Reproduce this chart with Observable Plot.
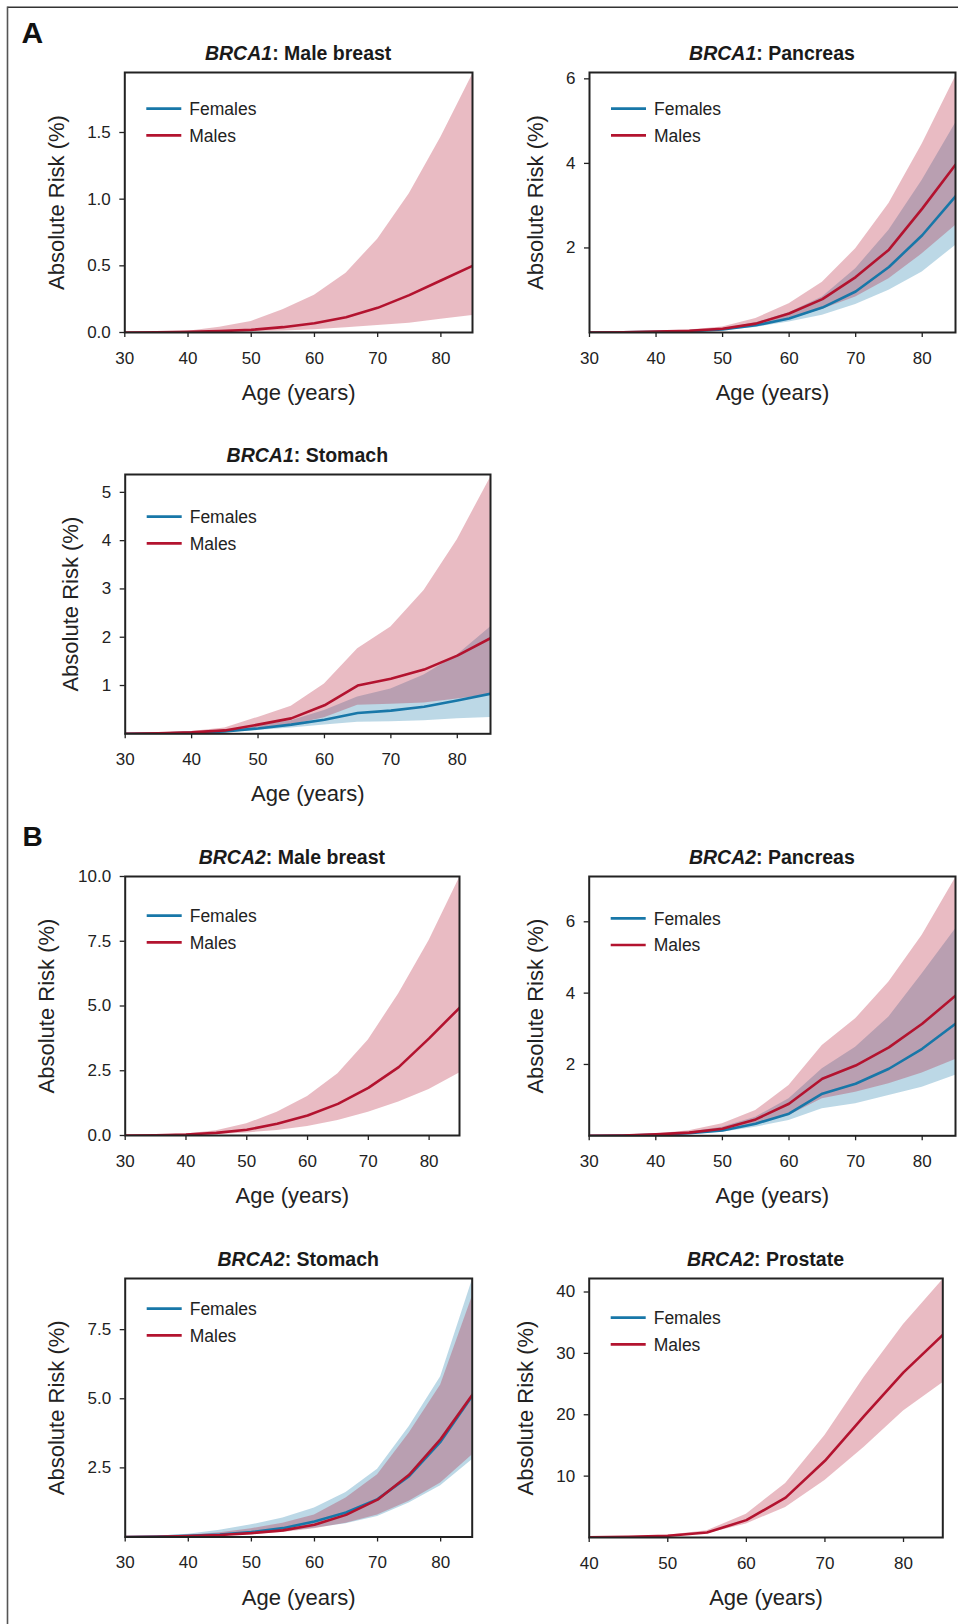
<!DOCTYPE html>
<html>
<head>
<meta charset="utf-8">
<script src="https://cdn.jsdelivr.net/npm/d3@7"></script>
<script src="https://cdn.jsdelivr.net/npm/@observablehq/plot@0.6"></script>
<style>
  body { margin: 0; background: #fff; }
  #page { position: relative; width: 958px; height: 1624px; overflow: hidden; background: #fff; }
  .panel { position: absolute; }
  #overlay { position: absolute; left: 0; top: 0; }
</style>
</head>
<body>
<div id="page"></div>
<script>
// ---------- data ----------
const ages = [30, 35, 40, 45, 50, 55, 60, 65, 70, 75, 80, 85];
const prostateAges = [40, 45, 50, 55, 60, 65, 70, 75, 80, 85];

// BRCA1: Male breast (males only)
const b1BreastMaleMid = [0, 0.001, 0.005, 0.01, 0.02, 0.04, 0.07, 0.115, 0.185, 0.28, 0.39, 0.50];
const b1BreastMaleHi  = [0, 0.002, 0.01, 0.04, 0.083, 0.17, 0.28, 0.445, 0.70, 1.04, 1.465, 1.935];
const b1BreastMaleLo  = [0, 0, 0.001, 0.003, 0.007, 0.012, 0.02, 0.035, 0.052, 0.07, 0.10, 0.127];

// BRCA1: Pancreas
const b1PancMaleMid = [0, 0.005, 0.02, 0.04, 0.09, 0.21, 0.45, 0.79, 1.31, 1.96, 2.93, 3.97];
const b1PancMaleHi  = [0, 0.01, 0.025, 0.06, 0.13, 0.33, 0.68, 1.19, 1.98, 3.05, 4.46, 6.05];
const b1PancMaleLo  = [0, 0.002, 0.01, 0.025, 0.06, 0.15, 0.31, 0.55, 0.84, 1.27, 1.86, 2.53];
const b1PancFemMid  = [0, 0.005, 0.015, 0.03, 0.07, 0.17, 0.33, 0.59, 0.97, 1.55, 2.30, 3.22];
const b1PancFemHi   = [0, 0.008, 0.02, 0.04, 0.09, 0.23, 0.47, 0.84, 1.51, 2.42, 3.60, 4.95];
const b1PancFemLo   = [0, 0.002, 0.008, 0.02, 0.05, 0.12, 0.25, 0.41, 0.66, 1.00, 1.43, 2.06];

// BRCA1: Stomach
const b1StomMaleMid = [0, 0.01, 0.03, 0.07, 0.19, 0.32, 0.59, 1.00, 1.14, 1.33, 1.62, 1.98];
const b1StomMaleHi  = [0, 0.02, 0.05, 0.12, 0.34, 0.57, 1.03, 1.76, 2.21, 2.97, 4.02, 5.31];
const b1StomMaleLo  = [0, 0.003, 0.015, 0.04, 0.10, 0.18, 0.33, 0.59, 0.61, 0.64, 0.72, 0.81];
const b1StomFemMid  = [0, 0.005, 0.02, 0.05, 0.11, 0.19, 0.29, 0.43, 0.48, 0.56, 0.69, 0.83];
const b1StomFemHi   = [0, 0.01, 0.03, 0.08, 0.17, 0.27, 0.48, 0.76, 0.93, 1.22, 1.63, 2.21];
const b1StomFemLo   = [0, 0.002, 0.008, 0.025, 0.07, 0.12, 0.18, 0.24, 0.25, 0.27, 0.31, 0.34];

// BRCA2: Male breast (males only)
const b2BreastMaleMid = [0, 0.01, 0.04, 0.10, 0.22, 0.45, 0.77, 1.22, 1.84, 2.64, 3.75, 4.93];
const b2BreastMaleHi  = [0, 0.02, 0.06, 0.18, 0.45, 0.90, 1.51, 2.38, 3.69, 5.47, 7.53, 9.95];
const b2BreastMaleLo  = [0, 0.003, 0.015, 0.04, 0.10, 0.19, 0.35, 0.58, 0.90, 1.29, 1.78, 2.41];

// BRCA2: Pancreas
const b2PancMaleMid = [0, 0.01, 0.04, 0.09, 0.20, 0.46, 0.90, 1.60, 1.97, 2.48, 3.14, 3.93];
const b2PancMaleHi  = [0, 0.02, 0.05, 0.14, 0.34, 0.71, 1.41, 2.53, 3.28, 4.31, 5.62, 7.23];
const b2PancMaleLo  = [0, 0.004, 0.025, 0.06, 0.14, 0.32, 0.57, 1.04, 1.22, 1.46, 1.76, 2.14];
const b2PancFemMid  = [0, 0.008, 0.03, 0.07, 0.15, 0.34, 0.62, 1.18, 1.46, 1.88, 2.44, 3.14];
const b2PancFemHi   = [0, 0.015, 0.04, 0.10, 0.24, 0.52, 1.04, 1.88, 2.48, 3.33, 4.54, 5.80];
const b2PancFemLo   = [0, 0.003, 0.02, 0.05, 0.10, 0.24, 0.43, 0.76, 0.90, 1.13, 1.36, 1.70];

// BRCA2: Stomach
const b2StomMaleMid = [0, 0.01, 0.03, 0.07, 0.14, 0.24, 0.44, 0.80, 1.35, 2.25, 3.54, 5.14];
const b2StomMaleHi  = [0, 0.02, 0.06, 0.15, 0.30, 0.50, 0.80, 1.41, 2.25, 3.75, 5.50, 8.69];
const b2StomMaleLo  = [0, 0.004, 0.02, 0.04, 0.09, 0.16, 0.30, 0.50, 0.80, 1.29, 1.95, 2.97];
const b2StomFemMid  = [0, 0.012, 0.04, 0.09, 0.18, 0.32, 0.56, 0.89, 1.37, 2.20, 3.45, 5.10];
const b2StomFemHi   = [0, 0.03, 0.10, 0.24, 0.44, 0.69, 1.05, 1.61, 2.45, 3.99, 5.80, 9.29];
const b2StomFemLo   = [0, 0.005, 0.02, 0.05, 0.10, 0.19, 0.32, 0.48, 0.74, 1.23, 1.85, 2.79];

// BRCA2: Prostate (males only, from age 40)
const b2ProsMaleMid = [0.03, 0.10, 0.28, 0.82, 2.83, 6.5, 12.5, 19.8, 26.9, 33.0];
const b2ProsMaleHi  = [0.05, 0.12, 0.35, 1.09, 3.8, 8.8, 16.6, 26.1, 34.7, 42.0];
const b2ProsMaleLo  = [0.01, 0.07, 0.20, 0.60, 2.2, 4.9, 9.3, 14.7, 20.6, 25.2];

const legendLabels = ["Females", "Males"];
const xLabel = "Age (years)";
const yLabel = "Absolute Risk (%)";

// ---------- styling ----------
const femaleColor = "#1877a8";
const maleColor = "#b3132f";
const ink = "#222";
const FONT = "'Liberation Sans', Arial, Helvetica, sans-serif";

function rows(x, mid, lo, hi) {
  return x.map((a, i) => ({age: a, mid: mid[i], lo: lo[i], hi: hi[i]}));
}

const ROW_TOPS = [0, 402, 804, 1206];
const COL = [{left: 0, width: 500}, {left: 479, width: 479}];
const FRAME_TOP = 72;

const panels = [
  {gene: "BRCA1", site: "Male breast", col: 0, row: 0, ml: 124.3, mr: 28, fh: 260,
   xDomain: [30, 85], xTicks: [30, 40, 50, 60, 70, 80], yDomain: [0, 1.95], yTicks: [0, 0.5, 1.0, 1.5], yFmt: ".1f",
   legendDy: 36.7, yLabelDx: 67.6,
   male: rows(ages, b1BreastMaleMid, b1BreastMaleLo, b1BreastMaleHi), female: null},
  {gene: "BRCA1", site: "Pancreas", col: 1, row: 0, ml: 110, mr: 3, fh: 260,
   xDomain: [30, 85], xTicks: [30, 40, 50, 60, 70, 80], yDomain: [0, 6.15], yTicks: [2, 4, 6], yFmt: "d",
   legendDy: 36.7, yLabelDx: 54,
   male: rows(ages, b1PancMaleMid, b1PancMaleLo, b1PancMaleHi), female: rows(ages, b1PancFemMid, b1PancFemLo, b1PancFemHi)},
  {gene: "BRCA1", site: "Stomach", col: 0, row: 1, ml: 124.7, mr: 10, fh: 259.3,
   xDomain: [30, 85], xTicks: [30, 40, 50, 60, 70, 80], yDomain: [0, 5.37], yTicks: [1, 2, 3, 4, 5], yFmt: "d",
   legendDy: 42.7, yLabelDx: 54.7,
   male: rows(ages, b1StomMaleMid, b1StomMaleLo, b1StomMaleHi), female: rows(ages, b1StomFemMid, b1StomFemLo, b1StomFemHi)},
  {gene: "BRCA2", site: "Male breast", col: 0, row: 2, ml: 124.7, mr: 41, fh: 259,
   xDomain: [30, 85], xTicks: [30, 40, 50, 60, 70, 80], yDomain: [0, 10], yTicks: [0, 2.5, 5, 7.5, 10], yFmt: ".1f",
   legendDy: 39.7, yLabelDx: 78,
   male: rows(ages, b2BreastMaleMid, b2BreastMaleLo, b2BreastMaleHi), female: null},
  {gene: "BRCA2", site: "Pancreas", col: 1, row: 2, ml: 109.7, mr: 3, fh: 259.3,
   xDomain: [30, 85], xTicks: [30, 40, 50, 60, 70, 80], yDomain: [0, 7.27], yTicks: [2, 4, 6], yFmt: "d",
   legendDy: 42.3, yLabelDx: 53.7,
   male: rows(ages, b2PancMaleMid, b2PancMaleLo, b2PancMaleHi), female: rows(ages, b2PancFemMid, b2PancFemLo, b2PancFemHi)},
  {gene: "BRCA2", site: "Stomach", col: 0, row: 3, ml: 124.7, mr: 28.3, fh: 258.5,
   xDomain: [30, 85], xTicks: [30, 40, 50, 60, 70, 80], yDomain: [0, 9.35], yTicks: [2.5, 5, 7.5], yFmt: ".1f",
   legendDy: 30.7, yLabelDx: 68,
   male: rows(ages, b2StomMaleMid, b2StomMaleLo, b2StomMaleHi), female: rows(ages, b2StomFemMid, b2StomFemLo, b2StomFemHi)},
  {gene: "BRCA2", site: "Prostate", col: 1, row: 3, ml: 109.7, mr: 15.7, fh: 259,
   xDomain: [40, 85], xTicks: [40, 50, 60, 70, 80], yDomain: [0, 42.2], yTicks: [10, 20, 30, 40], yFmt: "d",
   legendDy: 39.7, yLabelDx: 63.7,
   male: rows(prostateAges, b2ProsMaleMid, b2ProsMaleLo, b2ProsMaleHi), female: null}
];

const page = document.getElementById("page");

// overlay: frame border and panel tags
const ov = d3.select(page).append("svg").attr("id", "overlay").attr("width", 958).attr("height", 1624);
ov.append("line").attr("x1", 7.5).attr("x2", 958).attr("y1", 7.2).attr("y2", 7.2).attr("stroke", "#333").attr("stroke-width", 1.6);
ov.append("line").attr("x1", 7.5).attr("x2", 7.5).attr("y1", 6.4).attr("y2", 1624).attr("stroke", "#555").attr("stroke-width", 1.6);
ov.append("text").attr("x", 21.5).attr("y", 43.3).attr("font-family", FONT).attr("font-weight", "bold").attr("font-size", 30).attr("fill", "#111").text("A");
ov.append("text").attr("x", 22.5).attr("y", 845.7).attr("font-family", FONT).attr("font-weight", "bold").attr("font-size", 28).attr("fill", "#111").text("B");

for (const p of panels) {
  const col = COL[p.col];
  const top = ROW_TOPS[p.row];
  const height = p.row === 3 ? 418 : 402;
  const marginBottom = height - FRAME_TOP - p.fh;

  const marks = [];
  if (p.female) marks.push(Plot.areaY(p.female, {x: "age", y1: "lo", y2: "hi", fill: femaleColor, fillOpacity: 0.29, clip: true}));
  if (p.male) marks.push(Plot.areaY(p.male, {x: "age", y1: "lo", y2: "hi", fill: maleColor, fillOpacity: 0.29, clip: true}));
  if (p.female) marks.push(Plot.lineY(p.female, {x: "age", y: "mid", stroke: femaleColor, strokeWidth: 2.6, clip: true}));
  if (p.male) marks.push(Plot.lineY(p.male, {x: "age", y: "mid", stroke: maleColor, strokeWidth: 2.6, clip: true}));
  marks.push(Plot.frame({stroke: ink, strokeWidth: 2}));
  marks.push(Plot.axisX({ticks: p.xTicks, tickSize: 5, tickPadding: 14, fontSize: 17, label: null, stroke: ink, strokeWidth: 1.3, tickFormat: "d"}));
  marks.push(Plot.axisY({ticks: p.yTicks, tickSize: 5, tickPadding: 9, fontSize: 17, label: null, stroke: ink, strokeWidth: 1.3, tickFormat: d3.format(p.yFmt)}));
  marks.push(Plot.text([xLabel], {frameAnchor: "bottom", dy: 60.5, fontSize: 22, textAnchor: "middle", lineAnchor: "middle", fill: ink}));
  marks.push(Plot.text([yLabel], {frameAnchor: "left", dx: -p.yLabelDx, rotate: -90, fontSize: 22, textAnchor: "middle", lineAnchor: "middle", fill: ink}));

  const svg = Plot.plot({
    width: col.width,
    height,
    marginTop: FRAME_TOP,
    marginBottom,
    marginLeft: p.ml,
    marginRight: p.mr,
    x: {domain: p.xDomain},
    y: {domain: p.yDomain},
    style: {fontFamily: FONT, background: "transparent", color: ink, overflow: "visible"},
    marks
  });

  const s = d3.select(svg);
  const fx0 = p.ml, fx1 = col.width - p.mr;
  // title
  const t = s.append("text").attr("x", (fx0 + fx1) / 2).attr("y", FRAME_TOP - 12)
    .attr("text-anchor", "middle").attr("font-family", FONT).attr("font-weight", "bold")
    .attr("font-size", 19.5).attr("fill", "#1a1a1a");
  t.append("tspan").attr("font-style", "italic").text(p.gene);
  t.append("tspan").text(": " + p.site);
  // legend
  const lg = s.append("g").attr("text-anchor", "start");
  [femaleColor, maleColor].forEach((c, i) => {
    const ly = FRAME_TOP + p.legendDy + i * 26.7;
    lg.append("line").attr("x1", fx0 + 22).attr("x2", fx0 + 57).attr("y1", ly).attr("y2", ly)
      .attr("stroke", c).attr("stroke-width", 2.7);
    lg.append("text").attr("x", fx0 + 65).attr("y", ly + 6.3).attr("text-anchor", "start")
      .attr("font-family", FONT).attr("font-size", 17.5).attr("fill", ink).text(legendLabels[i]);
  });

  const wrap = document.createElement("div");
  wrap.className = "panel";
  wrap.style.left = col.left + "px";
  wrap.style.top = top + "px";
  wrap.appendChild(svg);
  page.appendChild(wrap);
}
</script>
</body>
</html>
